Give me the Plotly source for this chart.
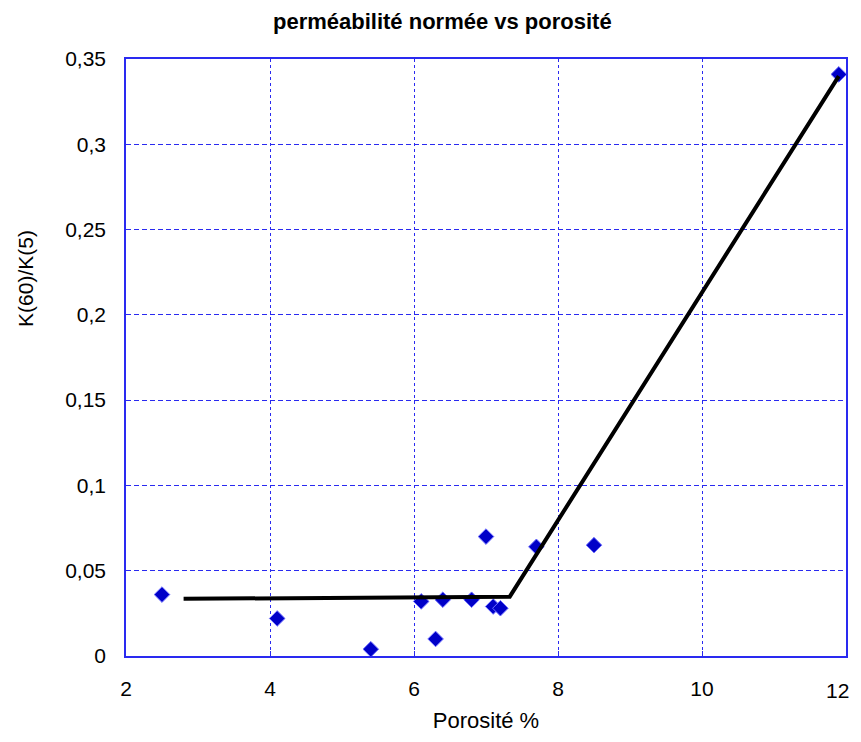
import plotly.graph_objects as go

porosite = [2.5, 4.1, 5.4, 6.1, 6.3, 6.4, 6.8, 7.0, 7.1, 7.2, 7.7, 8.5, 11.9]
ratio_k = [0.036, 0.022, 0.004, 0.032, 0.010, 0.033, 0.033, 0.070, 0.029, 0.028, 0.064, 0.065, 0.341]

fit_x = [2.8, 7.33, 11.9]
fit_y = [0.0335, 0.0348, 0.340]

y_ticks = [0, 0.05, 0.1, 0.15, 0.2, 0.25, 0.3, 0.35]
y_labels = ["0", "0,05", "0,1", "0,15", "0,2", "0,25", "0,3", "0,35"]
x_ticks = [2, 4, 6, 8, 10, 12]

FONT = "Arial, Liberation Sans, sans-serif"
GRID = "#2a2af0"

fig = go.Figure()
fig.add_trace(go.Scatter(
    x=porosite, y=ratio_k, mode="markers",
    marker=dict(symbol="diamond", size=12, color="#0000c8",
                line=dict(color="#7070ff", width=1)),
    showlegend=False, cliponaxis=False))
fig.add_trace(go.Scatter(
    x=fit_x, y=fit_y, mode="lines",
    line=dict(color="black", width=4), showlegend=False))

# last x tick label would overflow the figure edge; place it right-aligned at the edge
last_tick = x_ticks[-1]
fig.update_layout(
    width=845, height=726,
    paper_bgcolor="white", plot_bgcolor="white",
    margin=dict(l=118, r=5, t=51, b=77),
    title=dict(text="<b>perméabilité normée vs porosité</b>", x=0.514, xanchor="center",
               y=0.981, yanchor="middle",
               font=dict(family=FONT, size=22, color="black")),
    font=dict(family=FONT, color="black"),
    annotations=[
        dict(text="K(60)/K(5)", xref="paper", yref="paper", x=-0.14, y=0.632,
             xanchor="center", yanchor="middle", textangle=-90, showarrow=False,
             font=dict(family=FONT, size=21, color="black")),
        dict(text=str(last_tick), xref="paper", yref="paper", x=1.0069, y=0,
             xanchor="right", yanchor="middle", yshift=-34, showarrow=False,
             font=dict(family=FONT, size=21, color="black")),
    ],
)
fig.update_xaxes(
    range=[2, 12], tickvals=x_ticks, ticktext=[str(v) for v in x_ticks],
    tickfont=dict(size=21), showgrid=True, gridcolor=GRID, griddash="3px,3px", gridwidth=1,
    showline=True, linecolor=GRID, linewidth=1.5, mirror=True,
    ticks="inside", ticklen=5, tickcolor=GRID, zeroline=False, ticklabelstandoff=13,
    title=dict(text="Porosité %", font=dict(size=22), standoff=14),
)
fig.update_yaxes(
    range=[0, 0.35], tickvals=y_ticks, ticktext=y_labels,
    tickfont=dict(size=21), showgrid=True, gridcolor=GRID, griddash="5px,3px", gridwidth=1,
    showline=True, linecolor=GRID, linewidth=1.5, mirror=True,
    ticks="inside", ticklen=5, tickcolor=GRID, zeroline=False, ticklabelstandoff=14,
)

fig.write_html("out.html")
